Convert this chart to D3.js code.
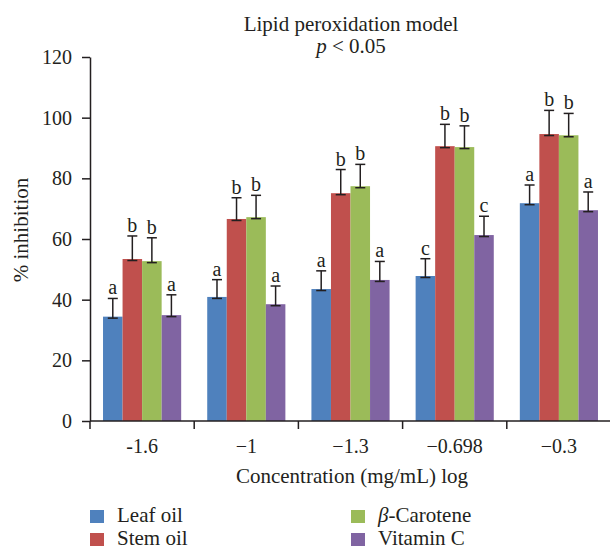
<!DOCTYPE html>
<html>
<head>
<meta charset="utf-8">
<script src="https://cdn.jsdelivr.net/npm/d3@7"></script>
<style>
body { margin: 0; background: #fff; }
svg text { font-family: "Liberation Serif", "DejaVu Serif", serif; fill: #231f20; }
</style>
</head>
<body>
<svg id="chart"></svg>
<script>
const width = 610;
const height = 550;

const categories = ["-1.6", "\u22121", "\u22121.3", "\u22120.698", "\u22120.3"];
const series = ["Leaf oil", "Stem oil", "\u03b2-Carotene", "Vitamin C"];
const colors = ["#4f81bd", "#c0504d", "#9bbb59", "#8064a2"];

// mean values per series, one per concentration
const leafOil = [34.4, 40.9, 43.5, 47.8, 71.8];
const stemOil = [53.4, 66.6, 75.1, 90.6, 94.6];
const betaCarotene = [52.7, 67.2, 77.4, 90.3, 94.2];
const vitaminC = [34.9, 38.5, 46.5, 61.3, 69.5];

// error bar heights
const leafErr = [6.0, 5.7, 6.0, 5.7, 6.0];
const stemErr = [7.6, 7.0, 7.8, 7.2, 7.8];
const betaErr = [7.7, 7.2, 7.2, 7.0, 7.2];
const vitErr = [6.7, 6.0, 6.1, 6.2, 6.0];

// significance letters
const leafSig = ["a", "a", "a", "c", "a"];
const stemSig = ["b", "b", "b", "b", "b"];
const betaSig = ["b", "b", "b", "b", "b"];
const vitSig = ["a", "a", "a", "c", "a"];

const yTicks = [0, 20, 40, 60, 80, 100, 120];

const values = [leafOil, stemOil, betaCarotene, vitaminC];
const errors = [leafErr, stemErr, betaErr, vitErr];
const letters = [leafSig, stemSig, betaSig, vitSig];

const rows = [];
categories.forEach((c, ci) => {
	series.forEach((s, si) => {
		rows.push({cat: c, ser: s, si: si, value: values[si][ci], err: errors[si][ci], sig: letters[si][ci]});
	});
});

const plotLeft = 90, plotRight = 611, plotTop = 57, plotBottom = 421;
const fontSize = 20;
const titleSize = 21;

const svg = d3.select("#chart").attr("width", width).attr("height", height);

const x0 = d3.scaleBand().domain(categories).range([plotLeft, plotRight]).paddingInner(0.25).paddingOuter(0.125);
const x1 = d3.scaleBand().domain(series).range([0, x0.bandwidth()]);
const y = d3.scaleLinear().domain([0, 120]).range([plotBottom, plotTop]);
const color = d3.scaleOrdinal().domain(series).range(colors);

// title
svg.append("text").attr("x", 351).attr("y", 31).attr("text-anchor", "middle")
	.style("font-size", titleSize + "px").text("Lipid peroxidation model");
const sub = svg.append("text").attr("x", 351).attr("y", 53).attr("text-anchor", "middle")
	.style("font-size", titleSize + "px");
sub.append("tspan").style("font-style", "italic").text("p");
sub.append("tspan").text(" < 0.05");

// bars
svg.append("g").selectAll("rect").data(rows).enter().append("rect")
	.attr("x", d => x0(d.cat) + x1(d.ser))
	.attr("y", d => y(d.value))
	.attr("width", x1.bandwidth())
	.attr("height", d => y(0) - y(d.value))
	.attr("fill", d => color(d.ser));

// error bars
const capW = 5;
const eb = svg.append("g").attr("stroke", "#231f20").attr("stroke-width", 1.5);
rows.forEach(d => {
	const cx = x0(d.cat) + x1(d.ser) + x1.bandwidth() / 2;
	const y1 = y(d.value) + 1.5, y2 = y(d.value + d.err);
	eb.append("line").attr("x1", cx).attr("x2", cx).attr("y1", y1).attr("y2", y2);
	eb.append("line").attr("x1", cx - capW).attr("x2", cx + capW).attr("y1", y1).attr("y2", y1);
	eb.append("line").attr("x1", cx - capW).attr("x2", cx + capW).attr("y1", y2).attr("y2", y2);
});

// significance letters
svg.append("g").selectAll("text").data(rows).enter().append("text")
	.attr("x", d => x0(d.cat) + x1(d.ser) + x1.bandwidth() / 2)
	.attr("y", d => y(d.value + d.err) - 4)
	.attr("text-anchor", "middle")
	.style("font-size", fontSize + "px")
	.text(d => d.sig);

// y axis
const yAxis = svg.append("g").attr("transform", "translate(" + plotLeft + ",0)")
	.call(d3.axisLeft(y).tickValues(yTicks).tickSize(8).tickSizeOuter(0).tickPadding(10));
yAxis.attr("font-family", null).attr("font-size", null);
yAxis.select(".domain").attr("stroke", "#231f20").attr("stroke-width", 1.5);
yAxis.selectAll(".tick line").attr("stroke", "#231f20").attr("stroke-width", 1.5);
yAxis.selectAll(".tick text").style("font-size", fontSize + "px").attr("fill", "#231f20");

// x axis with boundary ticks
const step = x0.step();
const bounds = d3.range(categories.length + 1).map(i => plotLeft + i * step);
svg.append("line").attr("x1", plotLeft).attr("x2", width).attr("y1", plotBottom).attr("y2", plotBottom)
	.attr("stroke", "#231f20").attr("stroke-width", 1.5);
svg.append("g").selectAll("line").data(bounds).enter().append("line")
	.attr("x1", d => d).attr("x2", d => d).attr("y1", plotBottom).attr("y2", plotBottom + 8)
	.attr("stroke", "#231f20").attr("stroke-width", 1.5);
svg.append("g").selectAll("text").data(categories).enter().append("text")
	.attr("x", d => x0(d) + x0.bandwidth() / 2)
	.attr("y", 453)
	.attr("text-anchor", "middle")
	.style("font-size", fontSize + "px")
	.text(d => d);

// axis titles
svg.append("text").attr("x", 352).attr("y", 483).attr("text-anchor", "middle")
	.style("font-size", titleSize + "px").text("Concentration (mg/mL) log");
svg.append("text").attr("transform", "translate(28,230) rotate(-90)").attr("text-anchor", "middle")
	.style("font-size", titleSize + "px").text("% inhibition");

// legend
const legendPos = [[90, 510], [90, 533], [351, 510], [351, 533]];
series.forEach((s, i) => {
	const g = svg.append("g").attr("transform", "translate(" + legendPos[i][0] + "," + legendPos[i][1] + ")");
	g.append("rect").attr("width", 14).attr("height", 13).attr("fill", color(s));
	const t = g.append("text").attr("x", 27).attr("y", 12).style("font-size", titleSize + "px");
	if (s.startsWith("\u03b2")) {
		t.append("tspan").style("font-style", "italic").text("\u03b2");
		t.append("tspan").text(s.slice(1));
	} else {
		t.text(s);
	}
});
</script>
</body>
</html>
